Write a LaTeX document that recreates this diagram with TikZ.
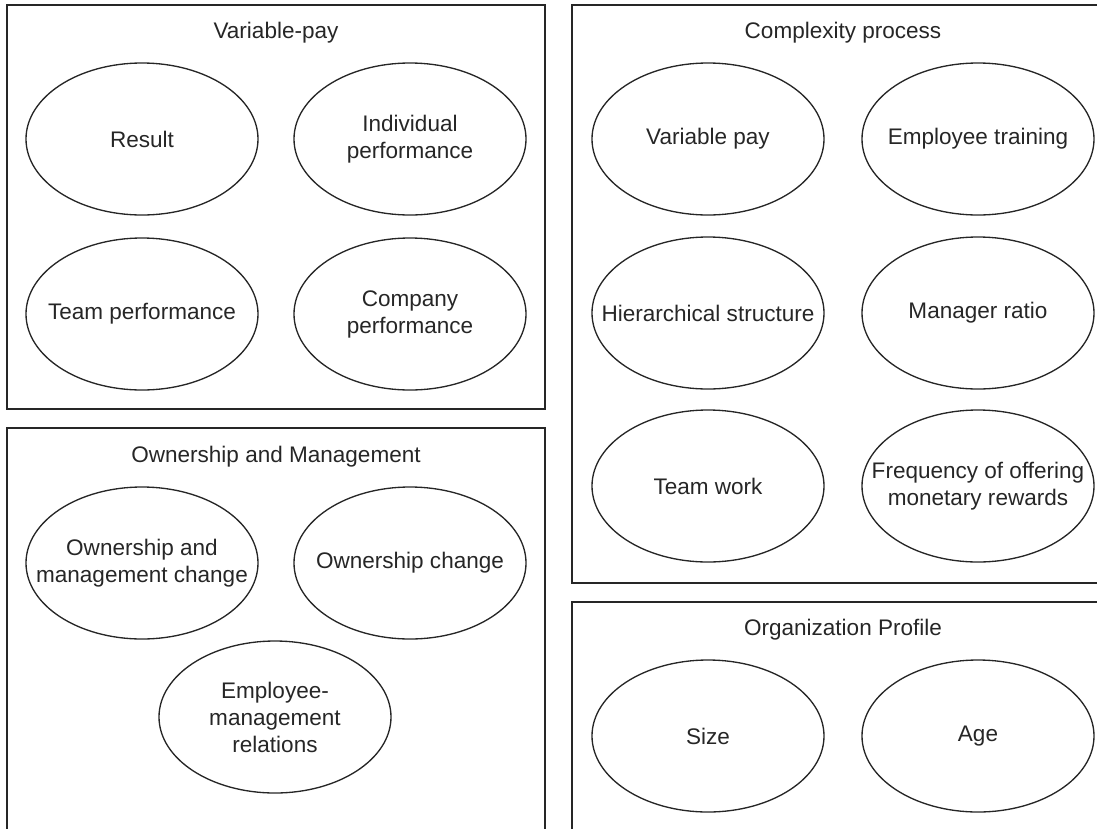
\documentclass[tikz,border=0pt]{standalone}
\usepackage{fontspec}
\setmainfont{Liberation Sans}
\usetikzlibrary{shapes.geometric}
\begin{document}
\begin{tikzpicture}[x=0.75pt,y=-0.75pt,
  group/.style={draw=black!85,line width=1.5pt},
  oval/.style={ellipse,draw=black!85,line width=1pt,
    minimum width=174pt,minimum height=114pt,inner sep=0pt},
  txt/.style={font=\fontsize{16.9pt}{20.25pt}\selectfont,
    text=black!85,align=center,inner sep=0pt}]
\useasboundingbox (0,0) rectangle (1097,829);
\clip (0,0) rectangle (1097,829);

% group frames (the right and bottom ones run past the page edge)
\draw[group] (7,5) rectangle (545,409);
\draw[group] (7,428) rectangle (545,860);
\draw[group] (572,5) rectangle (1114,583);
\draw[group] (572,602) rectangle (1114,860);

% group titles
\node[txt] (tVP) at (276,33) {Variable-pay};
\node[txt] (tOM) at (276,457) {Ownership and Management};
\node[txt] (tCP) at (843,33) {Complexity process};
\node[txt] (tOP) at (843,630) {Organization Profile};

% Variable-pay
\node[oval] (result) at (142,139) {};
\node[txt] at (result) {Result};
\node[oval] (indiv) at (410,139) {};
\node[txt] at (indiv) {Individual\\performance};
\node[oval] (team) at (142,314) {};
\node[txt] at (team) {Team performance};
\node[oval] (company) at (410,314) {};
\node[txt] at (company) {Company\\performance};

% Ownership and Management
\node[oval] (omchange) at (142,563) {};
\node[txt] at (omchange) {Ownership and\\management change};
\node[oval] (ochange) at (410,563) {};
\node[txt] at (ochange) {Ownership change};
\node[oval] (emrel) at (275,717) {};
\node[txt] at (emrel) {Employee-\\management\\relations};

% Complexity process
\node[oval] (vpay) at (708,139) {};
\node[txt] at (vpay) {Variable pay};
\node[oval] (training) at (978,139) {};
\node[txt] at (training) {Employee training};
\node[oval] (hier) at (708,313) {};
\node[txt] at (hier) {Hierarchical structure};
\node[oval] (ratio) at (978,313) {};
\node[txt] at (ratio) {Manager ratio};
\node[oval] (teamwork) at (708,486) {};
\node[txt] at (teamwork) {Team work};
\node[oval] (freq) at (978,486) {};
\node[txt] at (freq) {Frequency of offering\\monetary rewards};

% Organization Profile
\node[oval] (size) at (708,736) {};
\node[txt] at (size) {Size};
\node[oval] (age) at (978,736) {};
\node[txt] at (age) {Age};
\end{tikzpicture}
\end{document}
